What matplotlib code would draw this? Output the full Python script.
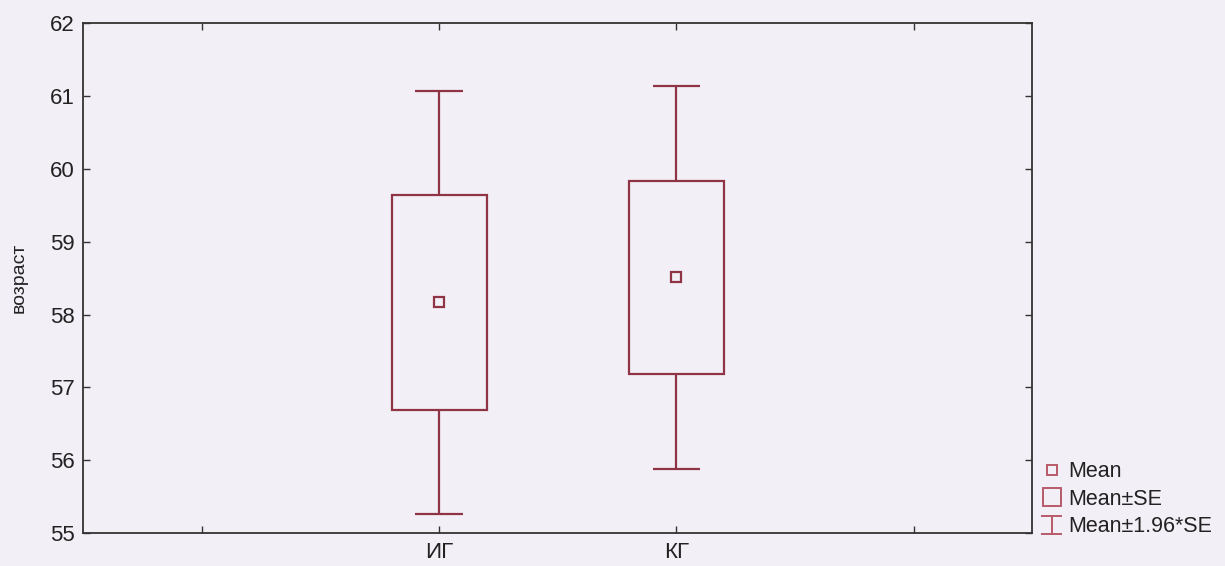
import numpy as np
import matplotlib
matplotlib.use("Agg")
import matplotlib.pyplot as plt
from matplotlib.lines import Line2D
from matplotlib.legend_handler import HandlerBase

plt.rcParams['font.family'] = ['Liberation Sans', 'DejaVu Sans']

# values
groups = ['ИГ', 'КГ']
mean = [58.17, 58.51]
se_lo = [56.69, 57.18]
se_hi = [59.64, 59.84]
ci_lo = [55.27, 55.88]
ci_hi = [61.07, 61.14]
yticks = [55, 56, 57, 58, 59, 60, 61, 62]

bg = '#f3eff6'
col = '#8e3444'
legcol = '#b85a6a'

fig = plt.figure(figsize=(12.25, 5.66), dpi=100, facecolor=bg)
ax = fig.add_axes([0.0678, 0.058, 0.775, 0.901], facecolor=bg)

x = np.arange(1, len(groups) + 1)
# Mean±SE boxes
ax.bar(x, np.array(se_hi) - np.array(se_lo), bottom=se_lo, width=0.40,
       fill=False, edgecolor=col, linewidth=1.6)
# whiskers Mean±1.96*SE
ax.vlines(x, se_hi, ci_hi, color=col, lw=1.6)
ax.vlines(x, ci_lo, se_lo, color=col, lw=1.6)
ax.hlines(ci_hi, x - 0.1, x + 0.1, color=col, lw=1.6)
ax.hlines(ci_lo, x - 0.1, x + 0.1, color=col, lw=1.6)
# means
ax.plot(x, mean, ls='none', marker='s', ms=7, mfc='none', mec=col, mew=1.6)

ax.set_xlim(-0.5, 3.5)
ax.set_ylim(55, 62)
ax.set_xticks([0, 1, 2, 3])
ax.set_xticklabels([''] + groups + [''])
ax.set_yticks(yticks)
ax.tick_params(direction='in', top=True, right=True, length=5, width=1,
               labelsize=16, color='#333333', labelcolor='#222222', pad=6)
for s in ax.spines.values():
    s.set_color('#333333')
    s.set_linewidth(1.3)
ax.set_ylabel('возраст', fontsize=14, color='#222222')
ax.yaxis.set_label_coords(-0.058, 0.5)


class IBeam(HandlerBase):
    def create_artists(self, legend, orig, xd, yd, w, h, fs, trans):
        cx = xd + w / 2
        y0, y1 = yd - 1, yd + h + 1
        a = Line2D([cx, cx], [y0, y1], color=legcol, lw=1.4, transform=trans)
        b = Line2D([cx - 7, cx + 7], [y1, y1], color=legcol, lw=1.4, transform=trans)
        c = Line2D([cx - 7, cx + 7], [y0, y0], color=legcol, lw=1.4, transform=trans)
        return [a, b, c]


h_mean = Line2D([], [], ls='none', marker='s', ms=7, mfc='none', mec=legcol, mew=1.4)
h_se = Line2D([], [], ls='none', marker='s', ms=13, mfc='none', mec=legcol, mew=1.4)
h_ci = Line2D([], [])
fig.legend([h_mean, h_se, h_ci], ['Mean', 'Mean±SE', 'Mean±1.96*SE'],
           handler_map={h_ci: IBeam()}, loc='lower left',
           bbox_to_anchor=(1030 / 1225, 18 / 566), frameon=False, fontsize=15.5,
           handlelength=1.0, handletextpad=0.3, labelspacing=0.3,
           borderpad=0, labelcolor='#222222')

fig.savefig('out.png', dpi=100, facecolor=bg)
